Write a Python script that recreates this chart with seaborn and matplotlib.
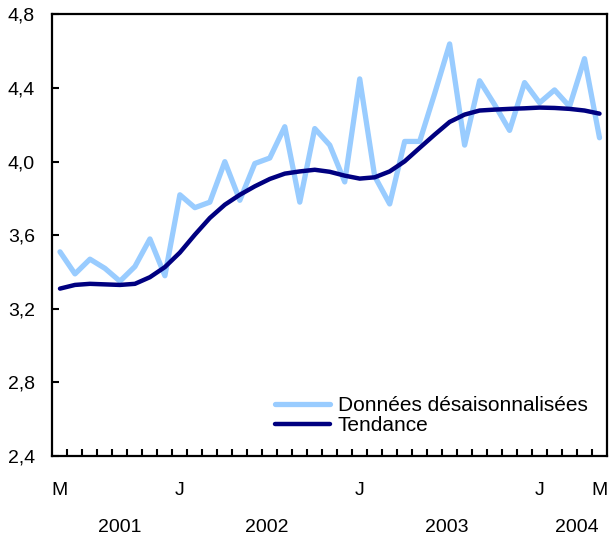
import numpy as np
import pandas as pd
import matplotlib
matplotlib.use("Agg")
import matplotlib.pyplot as plt
import seaborn as sns
from matplotlib.lines import Line2D

# Monthly, May 2001 .. May 2004
months = ["M","J","J","A","S","O","N","D",
          "J","F","M","A","M","J","J","A","S","O","N","D",
          "J","F","M","A","M","J","J","A","S","O","N","D",
          "J","F","M","A","M"]
sa_values = [3.51, 3.39, 3.47, 3.42, 3.35, 3.43, 3.58, 3.38, 3.82, 3.75, 3.78, 4.00,
             3.79, 3.99, 4.02, 4.19, 3.78, 4.18, 4.09, 3.89, 4.45, 3.92, 3.77, 4.11,
             4.11, 4.37, 4.64, 4.09, 4.44, 4.31, 4.17, 4.43, 4.32, 4.39, 4.30, 4.56, 4.13]
trend_values = [3.31, 3.33, 3.336, 3.333, 3.33, 3.336, 3.372, 3.427, 3.506, 3.603, 3.694, 3.766,
                3.82, 3.866, 3.906, 3.935, 3.947, 3.956, 3.945, 3.924, 3.908, 3.915, 3.947, 4.002,
                4.075, 4.147, 4.216, 4.256, 4.278, 4.283, 4.287, 4.29, 4.294, 4.292, 4.287, 4.278, 4.261]
series_names = ["Données désaisonnalisées", "Tendance"]
tick_pos = [0, 8, 20, 32, 36]
tick_labels = ["M", "J", "J", "J", "M"]
years = ["2001", "2002", "2003", "2004"]
year_pos = [4.0, 13.77, 25.83, 34.5]
yticks = [2.4, 2.8, 3.2, 3.6, 4.0, 4.4, 4.8]
colors = ["#99CCFF", "#000080"]

idx = np.arange(len(sa_values))
df = pd.concat([
    pd.DataFrame({"t": idx, "v": sa_values, "s": series_names[0]}),
    pd.DataFrame({"t": idx, "v": trend_values, "s": series_names[1]}),
])

sns.set_theme(style="ticks")
plt.rcParams["font.family"] = ["Liberation Sans", "DejaVu Sans"]
plt.rcParams["text.color"] = "black"
plt.rcParams["xtick.color"] = "black"
plt.rcParams["ytick.color"] = "black"
plt.rcParams["xtick.labelcolor"] = "black"
plt.rcParams["ytick.labelcolor"] = "black"

fig = plt.figure(figsize=(6.09, 5.37), dpi=100)
ax = fig.add_axes([0.0862, 0.1508, 0.9105, 0.8222])

sns.lineplot(data=df, x="t", y="v", hue="s", hue_order=series_names,
             palette=colors, ax=ax, legend=False)
lines = ax.get_lines()
lines[0].set_linewidth(3.8)
lines[1].set_linewidth(3.2)

ax.set_xlim(-0.5, 36.5)
ax.set_ylim(2.4, 4.8)
ax.set_xlabel("")
ax.set_ylabel("")

ax.set_yticks(yticks)
ax.set_yticklabels([f"{v:.1f}".replace(".", ",") for v in yticks], fontsize=14)
ax.tick_params(axis="y", direction="in", length=5, width=1.5, pad=12.6)

ax.set_xticks(tick_pos)
ax.set_xticklabels(tick_labels, fontsize=14)
ax.set_xticks(np.arange(0.5, 36, 1), minor=True)
ax.tick_params(axis="x", which="major", length=0, pad=18.5)
ax.tick_params(axis="x", which="minor", direction="in", length=5, width=1.5)

for sp in ax.spines.values():
    sp.set_visible(True)
    sp.set_linewidth(1.6)
    sp.set_color("black")

for y, p in zip(years, year_pos):
    ax.text(p, -0.163, y, transform=ax.get_xaxis_transform(), ha="center",
            va="center", fontsize=14, color="black")

handles = [Line2D([], [], color=colors[0], lw=3.8), Line2D([], [], color=colors[1], lw=3.2)]
ax.legend(handles, series_names, loc="upper left", bbox_to_anchor=(0.401, 0.136),
          frameon=False, fontsize=15, handlelength=2.64, handletextpad=0.38,
          labelspacing=0.05, borderpad=0, borderaxespad=0)

fig.savefig("out.png", dpi=100)
